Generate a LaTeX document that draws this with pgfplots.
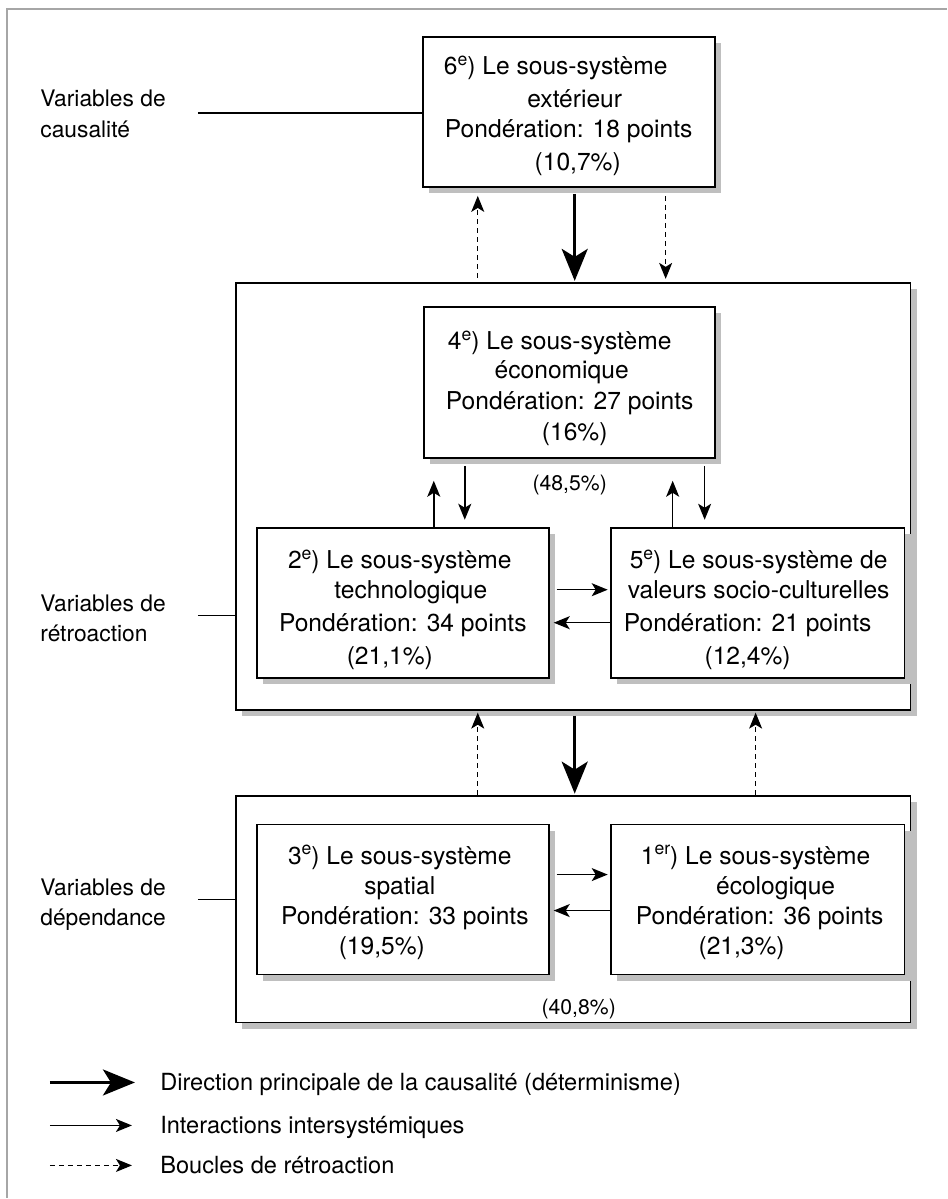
\documentclass[border=0pt]{standalone}
\usepackage{pgfplots}
\pgfplotsset{compat=1.18}
\usepackage{fontspec}
\setmainfont{TeX Gyre Heros}
\usetikzlibrary{arrows.meta}
\newcommand{\shbox}[4]{%
 \fill[gray!50, xshift=3pt, yshift=-3pt] (axis cs:#1,#2) rectangle (axis cs:#3,#4);
 \draw[line width=0.9pt,fill=white] (axis cs:#1,#2) rectangle (axis cs:#3,#4);}
\newcommand{\fbx}{\fontsize{12.3}{14}\selectfont}
\newcommand{\flb}{\fontsize{11.4}{13}\selectfont}
\newcommand{\flg}{\fontsize{11.8}{13}\selectfont}
\newcommand{\fsm}{\fontsize{10.6}{12}\selectfont}
\newcommand{\mysup}[1]{\raisebox{0.75ex}{\fontsize{8.8}{9}\selectfont #1}}
\begin{document}
\begin{tikzpicture}[
  thick arr/.style={line width=1.5pt,-{Stealth[length=16pt,width=13pt,inset=4pt]}},
  thin arr/.style={line width=0.75pt,-{Stealth[length=8pt,width=6.5pt,inset=2pt]}},
  dash arr/.style={line width=0.6pt,dash pattern=on 2.5pt off 2pt,-{Stealth[length=8pt,width=6.5pt,inset=2pt]}},
  t/.style={anchor=base,inner sep=0pt,font=\fbx},
]
\begin{axis}[
  scale only axis, width=473.5pt, height=599.5pt,
  xmin=0, xmax=947, ymin=0, ymax=1199, y dir=reverse,
  hide axis, clip=false,
]
\addplot[draw=none] coordinates {(0,0) (947,1199)};
% outer frame
\draw[gray!70, line width=0.6pt] (axis cs:947,9) -- (axis cs:7,9) -- (axis cs:7,1199);
% left labels
\node[anchor=base west,inner sep=0pt,font=\flb] at (axis cs:40,107) {Variables de};
\node[anchor=base west,inner sep=0pt,font=\flb] at (axis cs:40,138) {causalité};
\node[anchor=base west,inner sep=0pt,font=\flb] at (axis cs:40,612) {Variables de};
\node[anchor=base west,inner sep=0pt,font=\flb] at (axis cs:40,642) {rétroaction};
\node[anchor=base west,inner sep=0pt,font=\flb] at (axis cs:40,896) {Variables de};
\node[anchor=base west,inner sep=0pt,font=\flb] at (axis cs:40,926) {dépendance};
\draw[line width=0.6pt] (axis cs:198,113) -- (axis cs:423,113);
\draw[line width=0.6pt] (axis cs:198,616) -- (axis cs:236,616);
\draw[line width=0.6pt] (axis cs:198,900) -- (axis cs:236,900);
% big boxes
\shbox{236}{283}{911}{710}
\shbox{236}{796}{911}{1023}
% box 6
\shbox{423}{37}{715}{187}
\node[t] at (axis cs:556,75) {6\mysup{e}) Le sous-système};
\node[t] at (axis cs:575,108) {extérieur};
\node[t] at (axis cs:569,138) {Pondération: 18 points};
\node[t] at (axis cs:578,171) {(10,7\%)};
% box 4
\shbox{424}{307}{715}{458}
\node[t] at (axis cs:560,350) {4\mysup{e}) Le sous-système};
\node[t] at (axis cs:562,379) {économique};
\node[t] at (axis cs:570,410) {Pondération: 27 points};
\node[t] at (axis cs:575,441) {(16\%)};
\node[anchor=base,inner sep=0pt,font=\fsm] at (axis cs:570,491) {(48,5\%)};
% box 2
\shbox{257}{528}{549}{678}
\node[t] at (axis cs:400,569) {2\mysup{e}) Le sous-système};
\node[t] at (axis cs:411,599) {technologique};
\node[t] at (axis cs:403,632) {Pondération: 34 points};
\node[t] at (axis cs:390,665) {(21,1\%)};
% box 5
\shbox{611}{528}{905}{678}
\node[t] at (axis cs:759,569) {5\mysup{e}) Le sous-système de};
\node[t] at (axis cs:759,599) {valeurs socio-culturelles};
\node[t] at (axis cs:748,632) {Pondération: 21 points};
\node[t] at (axis cs:748,665) {(12,4\%)};
% box 3
\shbox{257}{825}{549}{975}
\node[t] at (axis cs:400,865) {3\mysup{e}) Le sous-système};
\node[t] at (axis cs:400,895) {spatial};
\node[t] at (axis cs:405,925) {Pondération: 33 points};
\node[t] at (axis cs:382,955) {(19,5\%)};
% box 1
\shbox{611}{825}{905}{975}
\node[t] at (axis cs:756,865) {1\mysup{er}) Le sous-système};
\node[t] at (axis cs:776,895) {écologique};
\node[t] at (axis cs:760,925) {Pondération: 36 points};
\node[t] at (axis cs:742,955) {(21,3\%)};
\node[anchor=base,inner sep=0pt,font=\fsm] at (axis cs:579,1015) {(40,8\%)};
% arrows top
\draw[dash arr] (axis cs:478,278) -- (axis cs:478,196);
\draw[thick arr] (axis cs:575,194) -- (axis cs:575,281);
\draw[dash arr] (axis cs:666,196) -- (axis cs:666,279);
% arrows box4
\draw[thin arr] (axis cs:434,528) -- (axis cs:434,481);
\draw[thin arr] (axis cs:465,466) -- (axis cs:465,520);
\draw[thin arr] (axis cs:673,528) -- (axis cs:673,481);
\draw[thin arr] (axis cs:705,466) -- (axis cs:705,520);
% horizontal middle
\draw[thin arr] (axis cs:557,590) -- (axis cs:608,590);
\draw[thin arr] (axis cs:611,623) -- (axis cs:554,623);
% between big boxes
\draw[dash arr] (axis cs:478,795) -- (axis cs:478,713);
\draw[thick arr] (axis cs:575,716) -- (axis cs:575,794);
\draw[dash arr] (axis cs:756,795) -- (axis cs:756,713);
% horizontal bottom
\draw[thin arr] (axis cs:557,875) -- (axis cs:608,875);
\draw[thin arr] (axis cs:611,911) -- (axis cs:554,911);
% legend
\draw[thick arr] (axis cs:50,1083) -- (axis cs:135,1083);
\draw[thin arr] (axis cs:50,1126) -- (axis cs:132,1126);
\draw[dash arr] (axis cs:50,1166) -- (axis cs:132,1166);
\node[anchor=base west,inner sep=0pt,font=\flg] at (axis cs:160,1091) {Direction principale de la causalité (déterminisme)};
\node[anchor=base west,inner sep=0pt,font=\flg] at (axis cs:160,1134) {Interactions intersystémiques};
\node[anchor=base west,inner sep=0pt,font=\flg] at (axis cs:160,1174) {Boucles de rétroaction};
\end{axis}
\end{tikzpicture}
\end{document}
